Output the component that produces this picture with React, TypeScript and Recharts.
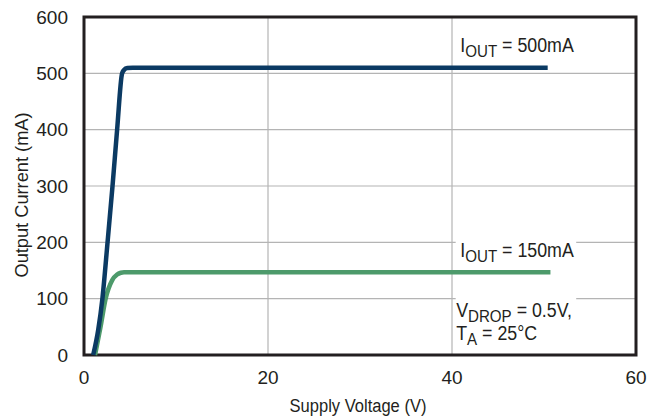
import React from 'react';
import {
  LineChart,
  Line,
  XAxis,
  YAxis,
  CartesianGrid,
  ReferenceArea,
  ReferenceDot,
} from 'recharts';

// Supply voltage (V) vs output current (mA)
const v500 = [1.0, 1.55, 2.0, 2.56, 3.1, 3.6, 4.14, 4.35, 4.7, 5.3, 50.4];
const i500 = [0, 45, 100, 200, 300, 400, 500, 506, 509.5, 510, 510];
const v150 = [1.2, 1.8, 2.35, 3.07, 3.6, 4.0, 4.35, 50.7];
const i150 = [0, 50, 100, 133, 143, 146, 147, 147];

const xTicks = [0, 20, 40, 60];
const yTicks = [0, 100, 200, 300, 400, 500, 600];

const FONT = '"Liberation Sans", Arial, sans-serif';
const INK = '#231f20';

const data500 = v500.map((v, i) => ({ v, i: i500[i] }));
const data150 = v150.map((v, i) => ({ v, i: i150[i] }));

// annotation text: main letter, subscript, rest
const notes = [
  { x: 40.9, y: 538, main: 'I', sub: 'OUT', rest: ' = 500mA' },
  { x: 40.9, y: 174, main: 'I', sub: 'OUT', rest: ' = 150mA' },
  { x: 40.45, y: 67.5, main: 'V', sub: 'DROP', rest: ' = 0.5V,' },
  { x: 40.45, y: 26.6, main: 'T', sub: 'A', rest: ' = 25°C' },
];

const noteLabel = (n: (typeof notes)[number]) => (props: any) => {
  const vb = props.viewBox || {};
  const x = vb.x + (vb.width || 0) / 2;
  const y = vb.y + (vb.height || 0) / 2;
  return (
    <text transform={`translate(${x} ${y}) scale(0.89 1)`} fill={INK} fontFamily={FONT} fontSize={20}>
      <tspan>{n.main}</tspan>
      <tspan fontSize={17} dy={5}>{n.sub}</tspan>
      <tspan dy={-5}>{n.rest}</tspan>
    </text>
  );
};

export default function App() {
  return (
    <div style={{ position: 'absolute', left: 0, top: 0 }}>
      <LineChart width={649} height={417} margin={{ top: 17, right: 13, left: 0, bottom: 0 }}>
        <CartesianGrid stroke="#b4b4b4" strokeWidth={1.2} verticalValues={[20, 40]} horizontalValues={[100, 200, 300, 400, 500]} />
        <XAxis
          type="number"
          dataKey="v"
          domain={[0, 60]}
          ticks={xTicks}
          height={62}
          axisLine={false}
          tickLine={false}
          tickMargin={10}
          tick={{ fontSize: 19, fill: INK, fontFamily: FONT }}
          label={{
            content: (p: any) => {
              const cx = p.viewBox.x + p.viewBox.width / 2 - 2;
              const cy = p.viewBox.y + 57;
              return (
                <text
                  transform={`translate(${cx} ${cy}) scale(0.87 1)`}
                  textAnchor="middle"
                  fill={INK}
                  fontFamily={FONT}
                  fontSize={19}
                >
                  Supply Voltage (V)
                </text>
              );
            },
          }}
        />
        <YAxis
          type="number"
          domain={[0, 600]}
          ticks={yTicks}
          width={84}
          axisLine={false}
          tickLine={false}
          tickMargin={10}
          tick={{ fontSize: 19, fill: INK, fontFamily: FONT }}
          label={{
            content: (p: any) => {
              const cx = p.viewBox.x + 28;
              const cy = p.viewBox.y + p.viewBox.height / 2 + 9;
              return (
                <text
                  transform={`translate(${cx} ${cy}) rotate(-90) scale(0.96 1)`}
                  textAnchor="middle"
                  fill={INK}
                  fontFamily={FONT}
                  fontSize={19}
                >
                  Output Current (mA)
                </text>
              );
            },
          }}
        />
        <ReferenceArea x1={40.4} x2={53.5} y1={18} y2={205} fill="#ffffff" fillOpacity={1} stroke="none" />
        <Line
          data={data150}
          dataKey="i"
          type="monotone"
          stroke="#4d9a6b"
          strokeWidth={4.5}
          dot={false}
          isAnimationActive={false}
        />
        <Line
          data={data500}
          dataKey="i"
          type="monotone"
          stroke="#0b3a63"
          strokeWidth={4.5}
          strokeLinejoin="round"
          dot={false}
          isAnimationActive={false}
        />
        <ReferenceArea x1={0} x2={60} y1={0} y2={600} fill="none" stroke={INK} strokeWidth={3} />
        {notes.map((n) => (
          <ReferenceDot key={n.rest} x={n.x} y={n.y} r={0} fill="none" stroke="none" label={{ content: noteLabel(n) }} />
        ))}
      </LineChart>
    </div>
  );
}
